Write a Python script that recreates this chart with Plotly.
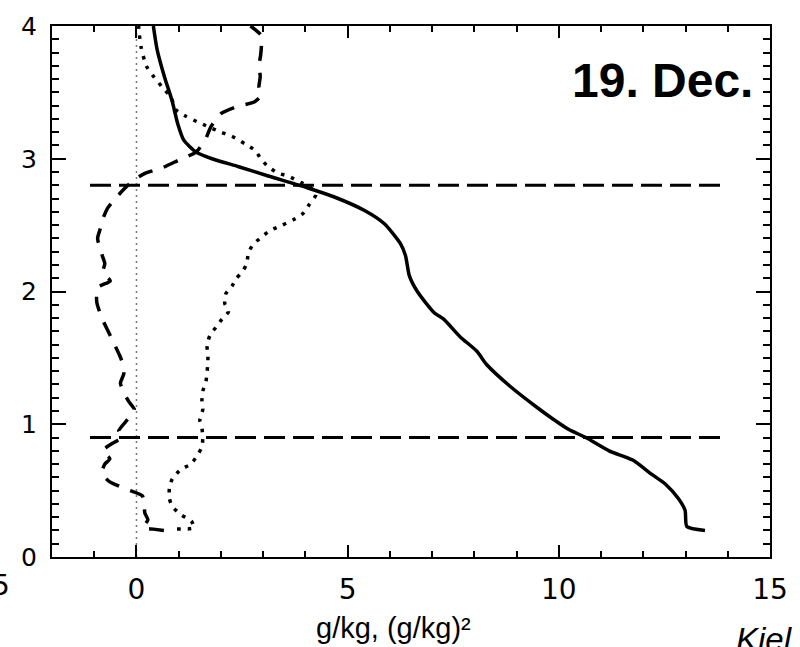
import plotly.graph_objects as go

# ---- data ----
solid_x = [13.46, 13.03, 12.99, 12.83, 12.52, 12.21, 11.75, 11.19, 10.64, 10.24, 9.86, 9.47, 8.83, 8.29, 8.06,
           7.66, 7.28, 7.05, 6.65, 6.46, 6.37, 6.25, 5.87, 5.40, 4.70, 4.06, 3.12, 2.42, 1.79, 1.41, 1.12,
           0.98, 0.84, 0.66, 0.49, 0.40]
solid_y = [0.20, 0.23, 0.35, 0.44, 0.55, 0.62, 0.73, 0.80, 0.90, 0.96, 1.04, 1.13, 1.29, 1.45, 1.55,
           1.66, 1.79, 1.84, 2.00, 2.12, 2.27, 2.36, 2.51, 2.61, 2.71, 2.78, 2.87, 2.94, 3.00, 3.05, 3.14,
           3.26, 3.44, 3.62, 3.82, 4.00]

dotted_x = [0.96, 1.36, 1.30, 1.05, 0.85, 0.78, 0.78, 0.85, 1.05, 1.29, 1.45, 1.55, 1.57, 1.55, 1.50,
            1.57, 1.55, 1.57, 1.64, 1.67, 1.69, 1.69, 1.67, 1.74, 1.88, 2.02, 2.18, 2.09, 2.11, 2.26,
            2.37, 2.51, 2.61, 2.65, 2.75, 2.96, 3.17, 3.45, 3.71, 3.95, 4.10, 4.25, 4.13, 3.90, 3.59,
            3.36, 3.12, 2.94, 2.82, 2.58, 2.26, 2.00, 1.71, 1.43, 1.17, 0.93, 0.82, 0.61, 0.38, 0.23,
            0.11, 0.07, 0.05]
dotted_y = [0.21, 0.22, 0.27, 0.32, 0.38, 0.44, 0.52, 0.59, 0.66, 0.70, 0.77, 0.83, 0.90, 0.97, 1.03,
            1.11, 1.18, 1.25, 1.31, 1.39, 1.46, 1.53, 1.59, 1.67, 1.73, 1.79, 1.85, 1.91, 1.98, 2.04,
            2.10, 2.15, 2.21, 2.29, 2.35, 2.41, 2.46, 2.50, 2.54, 2.59, 2.66, 2.73, 2.78, 2.82, 2.87,
            2.89, 2.94, 3.00, 3.06, 3.11, 3.17, 3.20, 3.24, 3.28, 3.32, 3.37, 3.46, 3.54, 3.63, 3.70,
            3.84, 3.93, 4.00]

dashed_x = [0.65, 0.40, 0.15, 0.27, 0.20, 0.14, -0.24, -0.65, -0.82, -0.75, -0.63, -0.80, -0.55, -0.33,
            -0.42, -0.20, -0.05, -0.18, -0.30, -0.38, -0.30, -0.32, -0.40, -0.55, -0.70, -0.82, -0.94,
            -0.92, -0.62, -0.80, -0.75, -0.82, -0.92, -0.86, -0.78, -0.68, -0.50, -0.30, -0.10, 0.20,
            0.60, 1.00, 1.41, 1.64, 1.76, 2.00, 2.35, 2.80, 2.96, 2.90, 2.93, 2.90, 2.94, 2.96, 2.95, 2.70]
dashed_y = [0.20, 0.21, 0.22, 0.28, 0.33, 0.46, 0.51, 0.57, 0.63, 0.70, 0.74, 0.80, 0.86, 0.90,
            0.95, 1.04, 1.11, 1.17, 1.24, 1.31, 1.38, 1.45, 1.52, 1.62, 1.72, 1.80, 1.92,
            2.03, 2.08, 2.14, 2.21, 2.28, 2.40, 2.47, 2.56, 2.63, 2.70, 2.77, 2.83, 2.89,
            2.93, 2.99, 3.05, 3.15, 3.24, 3.34, 3.39, 3.43, 3.48, 3.54, 3.62, 3.70, 3.78, 3.86, 3.93, 4.00]

layer_heights = [0.9, 2.8]
layer_x_extent = [-1.1, 14.0]
zero_line_y = [0, 4]

x_tickvals = [0, 5, 10, 15]
x_ticktext = ["0", "5", "10", "15"]
y_tickvals = [0, 1, 2, 3, 4]
y_ticktext = ["0", "1", "2", "3", "4"]

fig = go.Figure()

# vertical zero line (thin grey dots)
fig.add_trace(go.Scatter(x=[0, 0], y=zero_line_y, mode="lines",
                         line=dict(color="#777777", width=1.5, dash="2px,4px"), hoverinfo="skip"))

# horizontal layer boundaries
for h in layer_heights:
    fig.add_trace(go.Scatter(x=layer_x_extent, y=[h, h], mode="lines",
                             line=dict(color="black", width=3, dash="21px,8px"), hoverinfo="skip"))

fig.add_trace(go.Scatter(x=dashed_x, y=dashed_y, mode="lines",
                         line=dict(color="black", width=3.5, dash="15px,12px", shape="spline", smoothing=0.6)))
fig.add_trace(go.Scatter(x=dotted_x, y=dotted_y, mode="lines",
                         line=dict(color="black", width=3.5, dash="3.5px,7px", shape="spline", smoothing=0.6)))
fig.add_trace(go.Scatter(x=solid_x, y=solid_y, mode="lines",
                         line=dict(color="black", width=3.5, shape="spline", smoothing=0.6)))

axis_common = dict(showgrid=False, zeroline=False, showline=True, linecolor="black", linewidth=2,
                   mirror="ticks", ticks="inside", tickcolor="black", tickwidth=2)

fig.update_xaxes(range=[-2, 15], tickvals=x_tickvals, ticktext=x_ticktext, ticklen=12,
                 minor=dict(dtick=1, ticks="inside", ticklen=6, tickcolor="black", tickwidth=1.5),
                 tickfont=dict(family="DejaVu Sans", size=28, color="black"),
                 ticklabelstandoff=6, **axis_common)
fig.update_yaxes(range=[0, 4], tickvals=y_tickvals, ticktext=y_ticktext, ticklen=14,
                 minor=dict(dtick=0.1, ticks="inside", ticklen=7, tickcolor="black", tickwidth=1.5),
                 tickfont=dict(family="DejaVu Sans", size=25, color="black"),
                 ticklabelstandoff=8, **axis_common)

fig.update_layout(
    width=800, height=647,
    margin=dict(l=52, r=23, t=15, b=90),
    plot_bgcolor="white", paper_bgcolor="white",
    showlegend=False,
    annotations=[
        dict(text="<b>19. Dec.</b>", xref="paper", yref="paper", x=(668 - 52) / 725, y=(557 - 71) / 542,
             xanchor="center", yanchor="middle", showarrow=False,
             font=dict(family="Arial", size=48, color="black")),
        dict(text="g/kg, (g/kg)²", xref="paper", yref="paper", x=(397 - 52) / 725, y=(557 - 629) / 542,
             xanchor="center", yanchor="middle", showarrow=False,
             font=dict(family="Arial", size=29, color="black")),
        dict(text="<i>Kiel</i>", xref="paper", yref="paper", x=(741 - 52) / 725, y=(557 - 620) / 542,
             xanchor="left", yanchor="top", showarrow=False,
             font=dict(family="Arial", size=33, color="black")),
        dict(text="5", xref="paper", yref="paper", x=(0 - 52) / 725, y=(557 - 586) / 542,
             xanchor="center", yanchor="middle", showarrow=False,
             font=dict(family="DejaVu Sans", size=28, color="black")),
    ],
)

fig.write_html("out.html")
